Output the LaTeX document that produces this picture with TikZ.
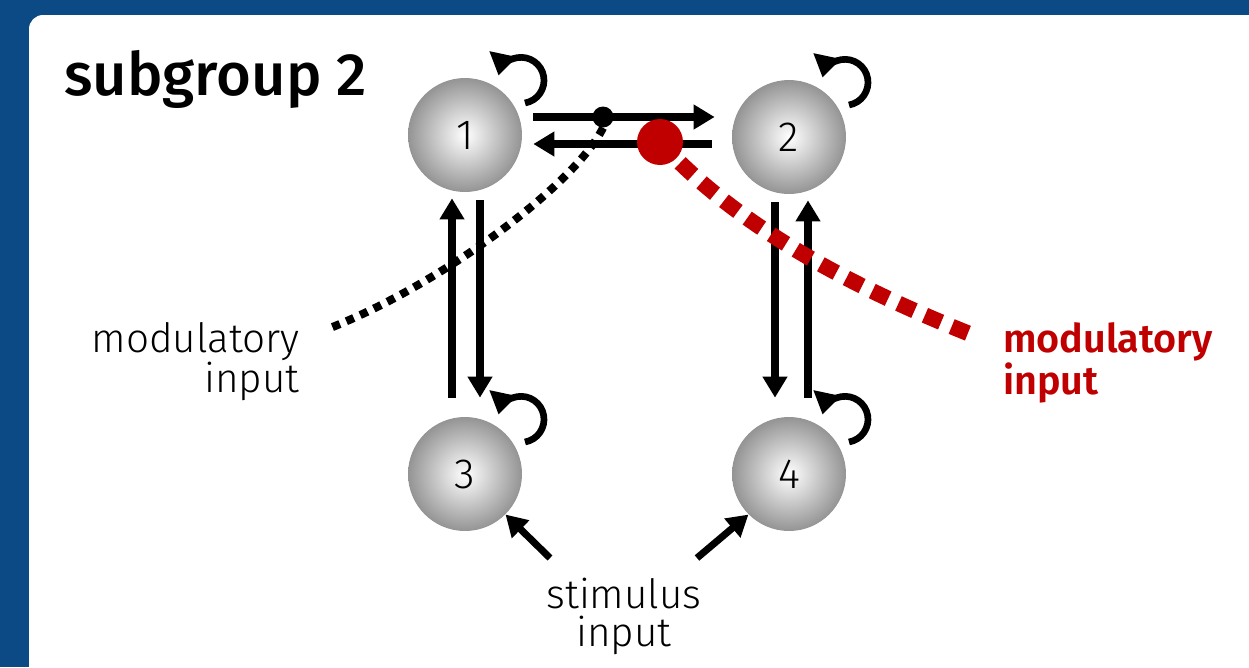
\documentclass[tikz,border=0pt]{standalone}
\usepackage{fontspec}
\setmainfont{Fira Sans}
\newfontfamily\thinfont{Fira Sans Light}
\newfontfamily\midfont{Fira Sans Medium}
\newfontfamily\semifont{Fira Sans SemiBold}
\usepackage{tikz}
\usetikzlibrary{arrows.meta,positioning,calc}
\definecolor{slideblue}{HTML}{0B4A85}
\definecolor{modred}{HTML}{C00000}
\tikzset{
  neuron/.style={circle, minimum size=2.28cm, inner sep=0pt, shading=radial, inner color=white, outer color=black!42, font=\thinfont\fontsize{24}{24}\selectfont},
  conn/.style={-{Triangle[length=12pt,width=13.5pt]}, line width=4pt},
  selfloop/.style={-{Triangle[length=12.5pt,width=15pt]}, line width=3.8pt},
  modlink/.style={line width=4.6pt, dash pattern=on 4.6pt off 4pt},
  redlink/.style={draw=modred, line width=9pt, dash pattern=on 10pt off 6.5pt},
  gate/.style={circle, fill=black, inner sep=0pt, minimum size=0.42cm},
  redgate/.style={circle, fill=modred, inner sep=0pt, minimum size=0.92cm},
  lbl/.style={font=\thinfont\fontsize{23}{21.6}\selectfont, inner sep=0pt}
}

\begin{document}
\begin{tikzpicture}[x=0.02cm, y=-0.02cm]
  \useasboundingbox (0,0) rectangle (1249,667);
  \fill[slideblue] (0,0) rectangle (1249,667);
  \fill[white, rounded corners=8pt] (29,15) rectangle (1300,720);

  \node[anchor=base west, inner sep=0pt, font=\midfont\fontsize{34}{34}\selectfont] (title) at (64,95) {subgroup 2};

  % the four units
  \node[neuron] (n1) at (465,135) {1};
  \node[neuron] (n2) at (789,137) {2};
  \node[neuron] (n3) at (465,474) {3};
  \node[neuron] (n4) at (789,474) {4};

  % self connections
  \foreach \n in {n1,n2,n3,n4}
    \draw[selfloop] ($(\n.center)+(60,-32)$) arc[start angle=80, end angle=-168, radius=23];

  % lateral and vertical connections
  \draw[conn] ($(n1.east)+(11,-18)$) -- ($(n2.west)+(-17,-20)$);
  \draw[conn] ($(n2.west)+(-20,7)$) -- ($(n1.east)+(11,9)$);
  \draw[conn] ($(n3.north)+(-13,-19)$) -- ($(n1.south)+(-13,6)$);
  \draw[conn] ($(n1.south)+(15,8)$) -- ($(n3.north)+(15,-19)$);
  \draw[conn] ($(n2.south)+(-14,8)$) -- ($(n4.north)+(-14,-19)$);
  \draw[conn] ($(n4.north)+(19,-19)$) -- ($(n2.south)+(19,6)$);

  % modulatory inputs
  \coordinate (modin) at (330,328);
  \coordinate (redin) at (970,334);
  \node[gate] (g1) at (603,117) {};
  \draw[modlink] (g1.south) .. controls (575,185) and (440,285) .. (modin);
  \draw[redlink] (660,142) .. controls (740,230) and (860,290) .. (redin);
  \node[redgate] (g2) at (660,142) {};

  \node[lbl, align=right, anchor=north east] (modtxt) at (300,322) {modulatory\\input};
  \node[lbl, align=left, anchor=north west, text=modred, font=\semifont\fontsize{22.5}{21.6}\selectfont] (redtxt) at (1003,322) {modulatory\\input};

  % stimulus
  \node[lbl, align=center, anchor=north] (stim) at (624,578) {stimulus\\input};
  \coordinate (stimL) at (550,558);
  \coordinate (stimR) at (697,558);
  \draw[conn] (stimL) -- (n3.south east);
  \draw[conn] (stimR) -- (n4.south west);
\end{tikzpicture}
\end{document}
